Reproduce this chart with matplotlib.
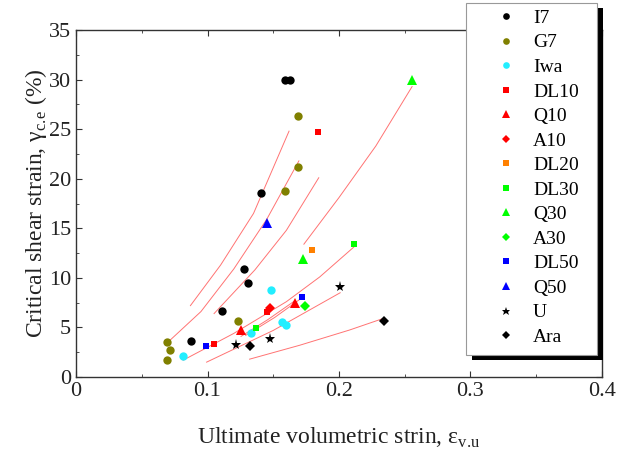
import matplotlib
matplotlib.use("Agg")
import matplotlib.pyplot as plt
from matplotlib.patches import Rectangle
from matplotlib.ticker import MultipleLocator

plt.rcParams['font.family'] = ['Liberation Serif', 'DejaVu Serif']
plt.rcParams['mathtext.fontset'] = 'custom'
plt.rcParams['mathtext.rm'] = 'Liberation Serif'

# measured points for each soil
i7_x = [0.159, 0.163, 0.141, 0.1277, 0.131, 0.111, 0.0871]
i7_y = [30.0, 30.0, 18.6, 10.93, 9.51, 6.69, 3.66]
g7_x = [0.169, 0.169, 0.159, 0.1229, 0.0694, 0.0712, 0.0691]
g7_y = [26.3, 21.15, 18.8, 5.68, 3.5, 2.72, 1.68]
iwa_x = [0.148, 0.1565, 0.1596, 0.133, 0.0813]
iwa_y = [8.74, 5.58, 5.21, 4.4, 2.12]
dl10_x = [0.184, 0.1449, 0.1046]
dl10_y = [24.7, 6.52, 3.33]
q10_x = [0.1664, 0.1251]
q10_y = [7.43, 4.71]
a10_x = [0.1474]
a10_y = [6.99]
dl20_x = [0.1796]
dl20_y = [12.84]
dl30_x = [0.2113, 0.1368]
dl30_y = [13.38, 4.98]
q30_x = [0.2556, 0.173]
q30_y = [30.0, 11.93]
a30_x = [0.1743]
a30_y = [7.19]
dl50_x = [0.1717, 0.099]
dl50_y = [8.07, 3.16]
q50_x = [0.1454]
q50_y = [15.5]
u_x = [0.2009, 0.1218, 0.1477]
u_y = [9.08, 3.26, 3.8]
ara_x = [0.2346, 0.1322]
ara_y = [5.61, 3.13]

# trend lines
trend_lines = [
    ([0.087, 0.11, 0.135, 0.162], [7.2, 11.3, 16.5, 24.8]),
    ([0.0714, 0.095, 0.12, 0.145, 0.1695], [3.7, 6.6, 10.9, 15.9, 21.8]),
    ([0.105, 0.136, 0.16, 0.1846], [6.4, 10.8, 14.8, 20.1]),
    ([0.1733, 0.2, 0.228, 0.2556], [13.4, 18.1, 23.3, 29.3]),
    ([0.0815, 0.12, 0.16, 0.1854, 0.2112], [1.7, 4.4, 7.6, 10.1, 13.1]),
    ([0.0993, 0.15, 0.2009], [1.5, 4.7, 8.5]),
    ([0.132, 0.17, 0.208, 0.2346], [1.8, 3.2, 4.74, 5.95]),
    ([0.1255, 0.146, 0.1665], [4.1, 5.8, 7.7]),
    ([0.129, 0.151, 0.173], [4.2, 6.0, 8.1]),
]

series = [
    ('I7', i7_x, i7_y, 'o', 'black', 6),
    ('G7', g7_x, g7_y, 'o', '#808000', 6),
    ('Iwa', iwa_x, iwa_y, 'o', '#22eeff', 6),
    ('DL10', dl10_x, dl10_y, 's', 'red', 5),
    ('Q10', q10_x, q10_y, '^', 'red', 6.5),
    ('A10', a10_x, a10_y, 'D', 'red', 5),
    ('DL20', dl20_x, dl20_y, 's', '#ff8000', 5),
    ('DL30', dl30_x, dl30_y, 's', '#00ff00', 5),
    ('Q30', q30_x, q30_y, '^', '#00ff00', 6.5),
    ('A30', a30_x, a30_y, 'D', '#00ff00', 5),
    ('DL50', dl50_x, dl50_y, 's', 'blue', 5),
    ('Q50', q50_x, q50_y, '^', 'blue', 6.5),
    ('U', u_x, u_y, '*', 'black', 8),
    ('Ara', ara_x, ara_y, 'D', 'black', 5),
]

W, H = 619, 459
fig = plt.figure(figsize=(W / 100, H / 100), dpi=100)
ax = fig.add_axes([0.1228, 0.1786, 0.8497, 0.756])

for xs, ys in trend_lines:
    ax.plot(xs, ys, color='#ff5050', lw=0.7, alpha=0.8, zorder=2)

for name, xs, ys, mk, col, ms in series:
    ax.plot(xs, ys, ls='none', marker=mk, color=col, markersize=ms,
            markeredgewidth=0, label=name, zorder=3)

ax.set_xlim(0, 0.4)
ax.set_ylim(0, 35)
ax.xaxis.set_minor_locator(MultipleLocator(0.05))
ax.yaxis.set_major_locator(MultipleLocator(5))
ax.yaxis.set_minor_locator(MultipleLocator(2.5))
ax.set_xticks([0, 0.1, 0.2, 0.3, 0.4])
ax.set_xticklabels(['0', '0.1', '0.2', '0.3', '0.4'])
ax.tick_params(which='both', direction='in', top=True, right=True,
               colors='#333333', labelcolor='#222222', labelsize=16)
ax.tick_params(which='major', length=4)
ax.tick_params(which='minor', length=2.5)
for sp in ax.spines.values():
    sp.set_color('#333333')
    sp.set_linewidth(1.0)

ax.set_xlabel('Ultimate volumetric strin, ε$_{\\mathregular{v.\\!u}}$',
              fontsize=17, color='#222222', labelpad=18)
ax.set_ylabel('Critical shear strain, γ$_{\\mathregular{c.\\!e}}$ (%)',
              fontsize=17, color='#222222', labelpad=0)

# legend box with a solid drop shadow, sitting over the top-right corner
box_x0, box_top, box_w, box_h = 466, 3, 131, 352
fig.add_artist(Rectangle((box_x0 + 6, H - box_top - box_h - 5), box_w, box_h,
                         transform=None, facecolor='black', edgecolor='none',
                         zorder=8))
fig.add_artist(Rectangle((box_x0, H - box_top - box_h), box_w, box_h,
                         transform=None, facecolor='white', edgecolor='#999999',
                         lw=0.8, zorder=9))

leg = fig.legend(loc='upper left', bbox_to_anchor=(490.5 / W, 1 - 9.3 / H),
                 frameon=False, fontsize=14, markerscale=0.8,
                 labelspacing=0.356, handletextpad=0.59, borderpad=0,
                 borderaxespad=0, handlelength=1.6)
leg.set_zorder(10)

fig.savefig('out.png', dpi=100)
